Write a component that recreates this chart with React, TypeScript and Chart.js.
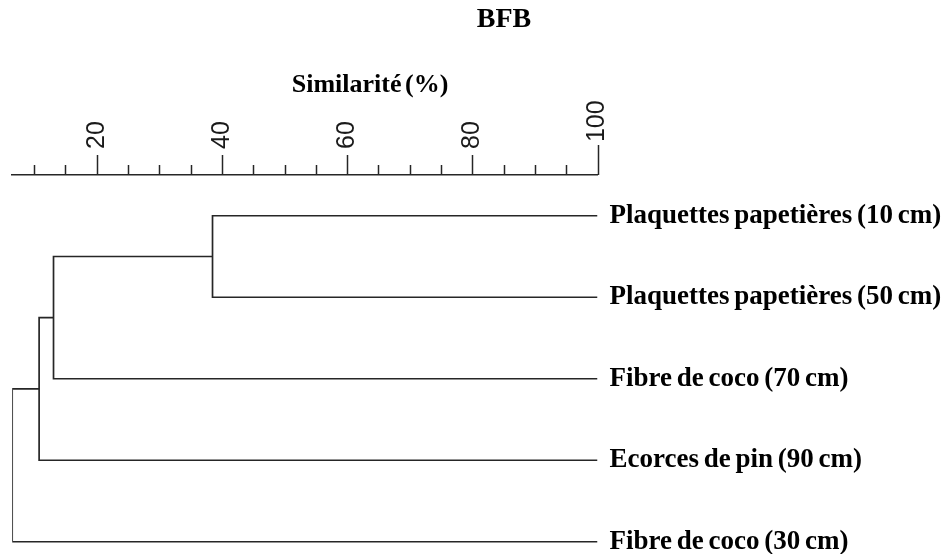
import React, { useEffect, useRef } from 'react';
import { Chart, registerables } from 'chart.js';

Chart.register(...registerables);

// ---- data ----
const chartTitle = 'BFB';
const axisTitle = 'Similarité (%)';
const leafLabels = [
  'Plaquettes papetières (10 cm)',
  'Plaquettes papetières (50 cm)',
  'Fibre de coco (70 cm)',
  'Ecorces de pin (90 cm)',
  'Fibre de coco (30 cm)',
];
const leafSimilarity = [100, 100, 100, 100, 100];
// node ids: 0-4 leaves, 5+ merges (in order)
const mergeLeftChild = [0, 5, 6, 7];
const mergeRightChild = [1, 2, 3, 4];
const mergeSimilarity = [38.5, 13.1, 10.8, 6.5];
const majorTicks = [20, 40, 60, 80, 100];
const minorTicks = [10, 15, 25, 30, 35, 45, 50, 55, 65, 70, 75, 85, 90, 95];

const LINE = '#262626';

function buildDatasets() {
  const nodeX: number[] = [...leafSimilarity];
  const nodeY: number[] = leafLabels.map((_, i) => i + 1);
  const sets: any[] = [];
  mergeSimilarity.forEach((h, k) => {
    const a = mergeLeftChild[k];
    const b = mergeRightChild[k];
    const data = [
      { x: nodeX[a], y: nodeY[a] },
      { x: h, y: nodeY[a] },
      { x: h, y: nodeY[b] },
      { x: nodeX[b], y: nodeY[b] },
    ];
    nodeX.push(h);
    nodeY.push((nodeY[a] + nodeY[b]) / 2);
    sets.push({
      data,
      showLine: true,
      borderColor: LINE,
      borderWidth: 1.7,
      pointRadius: 0,
      pointHoverRadius: 0,
      fill: false,
      tension: 0,
    });
  });
  return sets;
}

const tickMarksPlugin = {
  id: 'tickMarks',
  beforeDraw(chart: any) {
    chart.ctx.wordSpacing = '-2px';
  },
  afterDraw(chart: any) {
    const xs = chart.scales.x;
    const ctx = chart.ctx;
    ctx.save();
    ctx.strokeStyle = LINE;
    ctx.lineWidth = 1.5;
    const base = xs.bottom;
    xs.ticks.forEach((t: any) => {
      const px = Math.round(xs.getPixelForValue(t.value)) + 0.5;
      const isMajor = majorTicks.includes(t.value);
      const len = isMajor ? (t.value === 100 ? 30 : 20) : 10;
      ctx.beginPath();
      ctx.moveTo(px, base);
      ctx.lineTo(px, base - len);
      ctx.stroke();
    });
    ctx.restore();
  },
};

const titlesPlugin = {
  id: 'titles',
  afterDraw(chart: any) {
    const ctx = chart.ctx;
    ctx.save();
    ctx.wordSpacing = '0px';
    ctx.fillStyle = '#000';
    ctx.textAlign = 'center';
    ctx.textBaseline = 'middle';
    ctx.font = 'bold 28px "Liberation Serif"';
    ctx.fillText(chartTitle, 504, 20);
    ctx.font = 'bold 26px "Liberation Serif"';
    ctx.wordSpacing = '-3px';
    ctx.fillText(axisTitle, 370, 85);
    ctx.restore();
  },
};

export default function App() {
  const ref = useRef<HTMLCanvasElement | null>(null);
  useEffect(() => {
    if (!ref.current) return;
    const chart = new Chart(ref.current, {
      type: 'scatter',
      data: { datasets: buildDatasets() },
      options: {
        animation: false,
        responsive: false,
        events: [],
        layout: { padding: { left: 12.2, right: 0, top: 95, bottom: 2 } },
        plugins: {
          legend: { display: false },
          tooltip: { enabled: false },
          title: { display: false },
        },
        scales: {
          x: {
            type: 'linear',
            position: 'top',
            min: 6.5,
            max: 100,
            afterBuildTicks: (scale: any) => {
              scale.ticks = [...minorTicks, ...majorTicks]
                .sort((a, b) => a - b)
                .map((v) => ({ value: v }));
            },
            afterFit: (scale: any) => {
              scale.height = 80;
              scale.paddingLeft = 0;
              scale.paddingRight = 0;
            },
            grid: { display: false, drawTicks: false },
            border: { display: true, color: LINE, width: 1.5 },
            ticks: {
              autoSkip: false,
              minRotation: 90,
              maxRotation: 90,
              padding: 26,
              labelOffset: 30,
              color: '#1a1a1a',
              font: { family: '"Liberation Sans", Arial', size: 25 },
              callback: (v: any) =>
                majorTicks.includes(v) ? (v === 100 ? ' 100' : String(v)) : '',
            },
          },
          y: {
            type: 'linear',
            position: 'right',
            reverse: true,
            min: 0.5,
            max: 5.126,
            afterBuildTicks: (scale: any) => {
              scale.ticks = leafLabels.map((_, i) => ({ value: i + 1 }));
            },
            afterFit: (scale: any) => {
              scale.width = 942 - 597.5;
              scale.paddingTop = 0;
              scale.paddingBottom = 0;
            },
            grid: { display: false, drawTicks: false },
            border: { display: false },
            ticks: {
              autoSkip: false,
              padding: 12,
              color: '#000',
              font: { family: '"Liberation Serif"', size: 27, weight: 'bold' },
              callback: (v: any) => leafLabels[v - 1] ?? '',
            },
          },
        },
      },
      plugins: [tickMarksPlugin, titlesPlugin],
    } as any);
    return () => chart.destroy();
  }, []);
  return (
    <div style={{ position: 'absolute', left: 0, top: 0, width: 942, height: 554, background: '#fff' }}>
      <canvas ref={ref} width={942} height={554} style={{ display: 'block' }} />
    </div>
  );
}
